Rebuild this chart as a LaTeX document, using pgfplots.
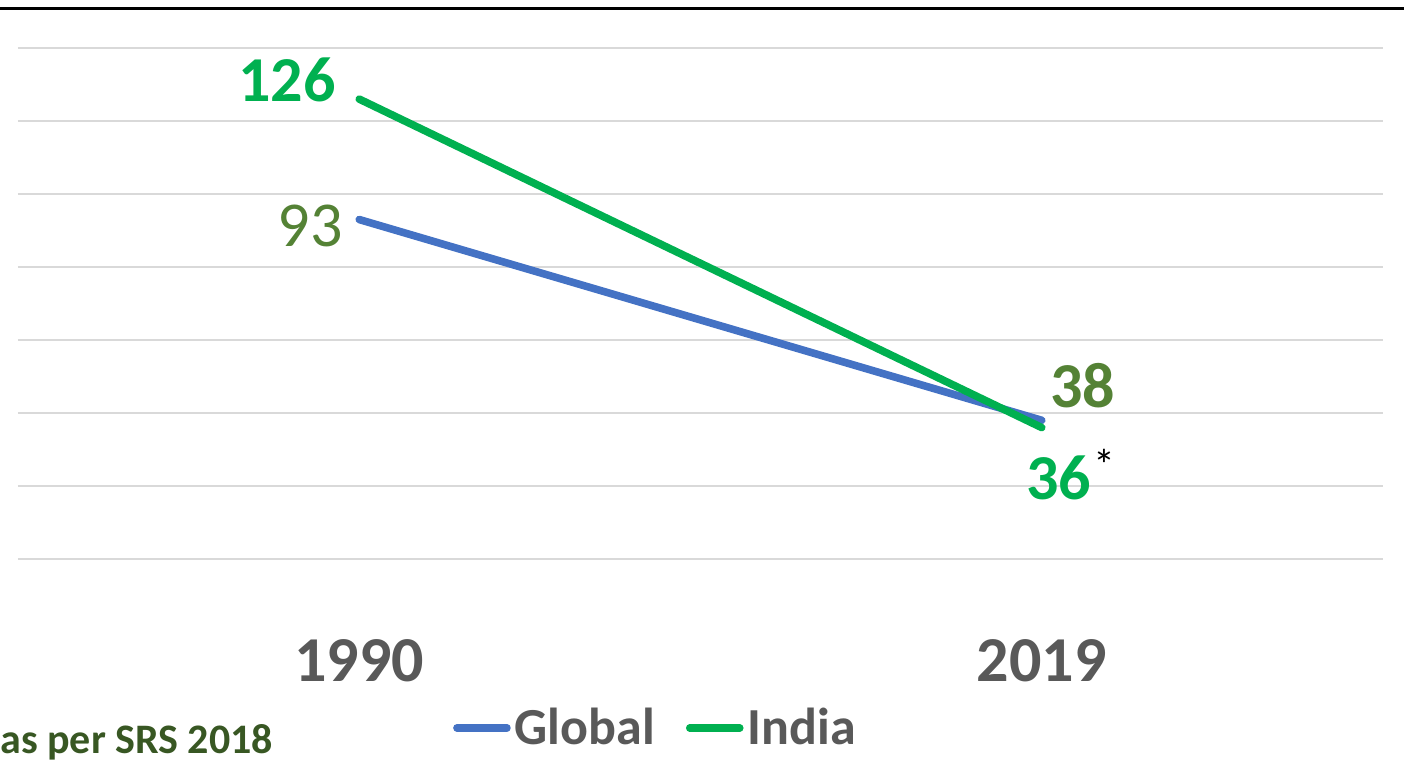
\documentclass[border=0pt]{standalone}
\usepackage{pgfplots}
\pgfplotsset{compat=1.18}
\usepackage{fontspec}
\setmainfont{Carlito}
\definecolor{gblue}{HTML}{4472C4}
\definecolor{igreen}{HTML}{00B050}
\definecolor{olive}{HTML}{548235}
\definecolor{dkgreen}{HTML}{385723}
\definecolor{txtgray}{HTML}{595959}
\definecolor{gridgray}{HTML}{D9D9D9}
\begin{document}
\begin{tikzpicture}
\useasboundingbox (0,0) rectangle (702pt,391pt);
% frame line at the top
\draw[black, line width=1.5pt] (0,386.5pt) -- (702pt,386.5pt);
\begin{axis}[
    at={(9pt,111.5pt)}, anchor=south west,
    scale only axis,
    width=682.5pt, height=255.5pt,
    xmin=-0.5, xmax=1.5, ymin=0, ymax=140,
    xtick={0,1}, xticklabels={1990,2019},
    ytick={0,20,...,140}, yticklabels={},
    ymajorgrids=true,
    grid style={gridgray, line width=1pt},
    axis line style={draw=none},
    tick style={draw=none},
    clip=false,
    xticklabel style={font=\fontsize{32}{36}\selectfont\bfseries, text=txtgray, anchor=north, inner sep=0pt, yshift=-40pt},
    legend columns=-1,
    legend style={at={(0.3185,-0.3307)}, anchor=west, draw=none, fill=none,
        font=\fontsize{26}{30}\selectfont\bfseries, text=txtgray,
        /tikz/every even column/.append style={column sep=13.5pt},
        inner sep=0pt},
    legend image code/.code={\draw[#1, line cap=round] (0pt,0pt) -- (25pt,0pt);},
]
\addplot[gblue, line width=3.8pt, line cap=round] coordinates {(0,93) (1,38)};
\addplot[igreen, line width=3.8pt, line cap=round] coordinates {(0,126) (1,36)};
\legend{Global, India}
\node[anchor=east, inner sep=0pt, text=igreen, font=\fontsize{32}{36}\selectfont\bfseries]
    at (axis cs:0,126) [xshift=-11.5pt, yshift=9.5pt] {126};
\node[anchor=east, inner sep=0pt, text=olive, font=\fontsize{32}{36}\selectfont]
    at (axis cs:0,93) [xshift=-8pt, yshift=-3pt] {93};
\node[anchor=west, inner sep=0pt, text=olive, font=\fontsize{32}{36}\selectfont\bfseries]
    at (axis cs:1,38) [xshift=4pt, yshift=17.5pt] {38};
\node[anchor=east, inner sep=0pt, text=igreen, font=\fontsize{32}{36}\selectfont\bfseries]
    at (axis cs:1,36) [xshift=25pt, yshift=-25pt] {36};
\node[anchor=west, inner sep=0pt, text=black, font=\fontsize{22}{26}\selectfont]
    at (axis cs:1,36) [xshift=25.5pt, yshift=-18.5pt] {*};
\end{axis}
\node[anchor=west, inner sep=0pt, text=dkgreen, font=\fontsize{21}{25}\selectfont\bfseries] at (0,20pt) {as per SRS 2018};
\end{tikzpicture}
\end{document}
